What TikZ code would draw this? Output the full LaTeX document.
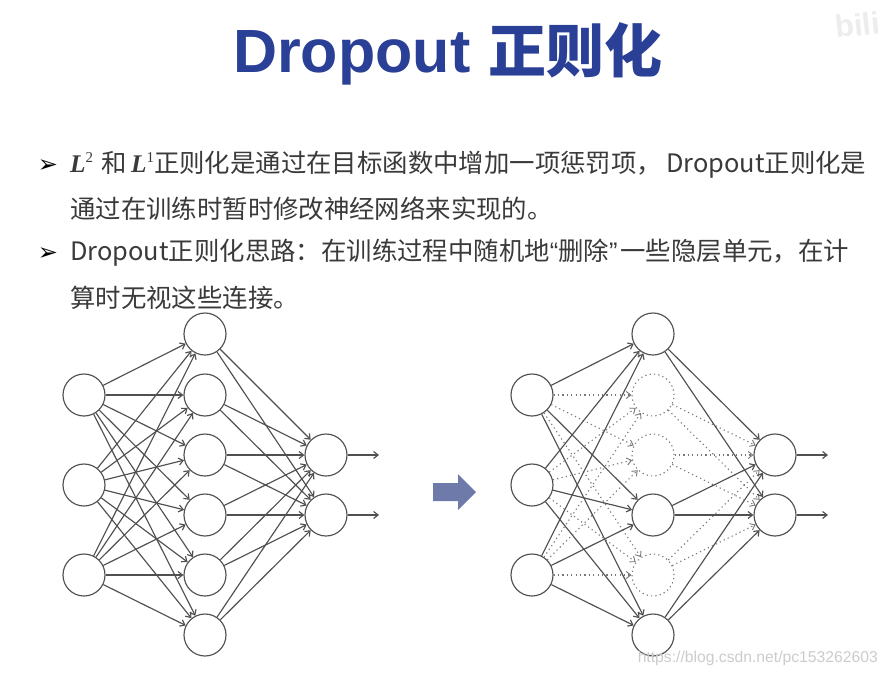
\documentclass[tikz,border=0pt]{standalone}
\usepackage{fontspec}
\setmainfont{Liberation Sans}
\newfontfamily\cjk{Noto Sans CJK SC}
\newfontfamily\sy{DejaVu Sans}
\newfontfamily\lserif{Liberation Serif}
\usetikzlibrary{arrows.meta}
\definecolor{titleblue}{HTML}{2A3F96}
\definecolor{bodyink}{HTML}{3A3A3A}
\definecolor{edgeink}{HTML}{505050}
\definecolor{ghostink}{HTML}{777777}
\definecolor{blockblue}{HTML}{6E7BAA}
\tikzset{
  x=1pt,y=-1pt,
  neuron/.style={circle,draw=edgeink,line width=1.15pt,minimum size=42pt,inner sep=0pt,fill=white},
  ghost/.style={circle,draw=ghostink,dash pattern=on 1.2pt off 3.2pt,line width=1.1pt,minimum size=42pt,inner sep=0pt},
  conn/.style={draw=edgeink,line width=1.15pt,-{Straight Barb[length=4.5pt,width=7pt]}},
  gconn/.style={draw=ghostink,dash pattern=on 1.2pt off 3.2pt,line width=1.1pt,-{Straight Barb[length=4.5pt,width=7pt,line width=0.9pt]}},
  bodyline/.style={anchor=west,inner sep=0pt,text=bodyink,font=\cjk\fontsize{25.4}{25.4}\selectfont},
  bullet/.style={anchor=center,inner sep=0pt,text=black,font=\sy\fontsize{24}{24}\selectfont},
}
\newcommand{\ltwo}[1]{{\lserif\bfseries\itshape L}\raisebox{0.42em}{\fontsize{15}{15}\selectfont\lserif #1}}
\newcommand{\qmark}[1]{{\fontspec{Liberation Sans}#1}}
\begin{document}
\begin{tikzpicture}
\useasboundingbox[fill=white] (0,0) rectangle (887,675);
% title
\node[anchor=base west,inner sep=0pt,text=titleblue,font=\bfseries\fontsize{61}{61}\selectfont] (title) at (233,72) {Dropout};
\node[anchor=base west,inner sep=0pt,text=titleblue,font=\cjk\bfseries\fontsize{58}{58}\selectfont] (titlecjk) at (488,72) {正则化};
% body
\node[bullet] (b1) at (48,166) {➢};
\node[bullet] (b2) at (48,254) {➢};
\node[bodyline] (l1) at (70,165) {\ltwo{2}\kern8.5pt 和\kern4pt \ltwo{1}正则化是通过在目标函数中增加一项惩罚项，\kern4pt Dropout正则化是};
\node[bodyline] (l2) at (70,209) {通过在训练时暂时修改神经网络来实现的。};
\node[bodyline] (l3) at (70,253) {Dropout正则化思路：在训练过程中随机地\qmark{“}删除\qmark{”}\kern3pt 一些隐层单元，在计};
\node[bodyline] (l4) at (70,298) {算时无视这些连接。};
% left network
\foreach \i/\y in {1/395,2/485,3/575} \node[neuron] (a\i) at (84,\y) {};
\foreach \i/\y in {1/334,2/395,3/455,4/515,5/575,6/635} \node[neuron] (b\i h) at (205,\y) {};
\foreach \i/\y in {1/455,2/515} {\node[neuron] (c\i) at (326,\y) {}; \coordinate (e\i) at (379,\y);}
\foreach \i in {1,2,3} \foreach \j in {1,...,6} \draw[conn] (a\i) -- (b\j h);
\foreach \j in {1,...,6} \foreach \k in {1,2} \draw[conn] (b\j h) -- (c\k);
\foreach \k in {1,2} \draw[conn] (c\k) -- (e\k);
% block arrow
\fill[blockblue] (433,483) -- (458,483) -- (458,474) -- (476,492) -- (458,510) -- (458,501) -- (433,501) -- cycle;
% right network
\foreach \i/\y in {1/395,2/485,3/575} \node[neuron] (p\i) at (532,\y) {};
\foreach \i/\y in {1/334,4/515,6/635} \node[neuron] (q\i) at (653,\y) {};
\foreach \i/\y in {2/395,3/455,5/575} \node[ghost] (q\i) at (653,\y) {};
\foreach \i/\y in {1/455,2/515} {\node[neuron] (r\i) at (775,\y) {}; \coordinate (s\i) at (828,\y);}
\foreach \i in {1,2,3} {
  \foreach \j in {2,3,5} \draw[gconn] (p\i) -- (q\j);
  \foreach \j in {1,4,6} \draw[conn] (p\i) -- (q\j);
}
\foreach \k in {1,2} {
  \foreach \j in {2,3,5} \draw[gconn] (q\j) -- (r\k);
  \foreach \j in {1,4,6} \draw[conn] (q\j) -- (r\k);
  \draw[conn] (r\k) -- (s\k);
}
% watermarks
\node[anchor=base east,inner sep=0pt,text=black!20,font=\fontsize{15.7}{15.7}\selectfont] (wm) at (878,662) {https://blog.csdn.net/pc153262603};
\node[anchor=base west,inner sep=0pt,text=black!7,font=\bfseries\fontsize{31}{31}\selectfont,rotate=6] (bili) at (836,38) {bili};
\end{tikzpicture}
\end{document}
